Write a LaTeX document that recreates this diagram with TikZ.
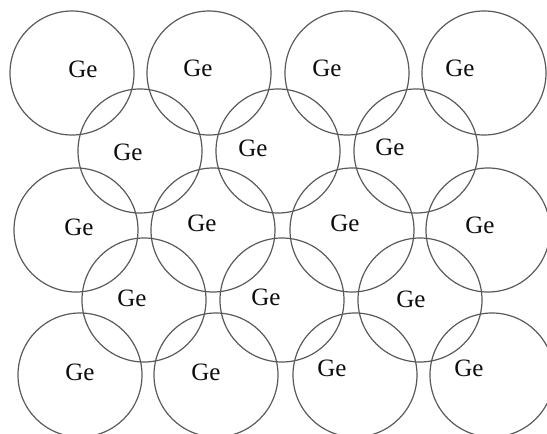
\documentclass[tikz,border=0pt]{standalone}
\usepackage{fontspec}
\setmainfont{Liberation Serif}
\begin{document}
\begin{tikzpicture}[x=1pt,y=-1pt,
  atom/.style={circle,draw=black!65,line width=1.2pt,minimum size=124pt,inner sep=0pt},
  lbl/.style={font=\fontsize{25}{25}\selectfont,inner sep=0pt,text=black!95}]
\useasboundingbox (0,0) rectangle (547,434);
% circles
\foreach \n/\x/\y in {a1/72/73,a2/209/73,a3/347/73,a4/484/73,
  b1/140/151,b2/278/151,b3/416/151,
  c1/76/230,c2/213/230,c3/352/230,c4/488/230,
  d1/144/300,d2/282/300,d3/420/300,
  e1/80/375,e2/216/375,e3/355/375,e4/492/375}
  \node[atom] (\n) at (\x,\y) {};
% labels
\foreach \n/\x/\y in {a1/83/69,a2/198/68,a3/327/68,a4/460/68,
  b1/128/152,b2/253/148,b3/390/147,
  c1/79/227,c2/202/223,c3/345/223,c4/480/225,
  d1/132/298,d2/266/297,d3/411/299,
  e1/80/372,e2/206/372,e3/332/368,e4/469/368}
  \node[lbl] (t\n) at (\x,\y) {Ge};
\end{tikzpicture}
\end{document}
